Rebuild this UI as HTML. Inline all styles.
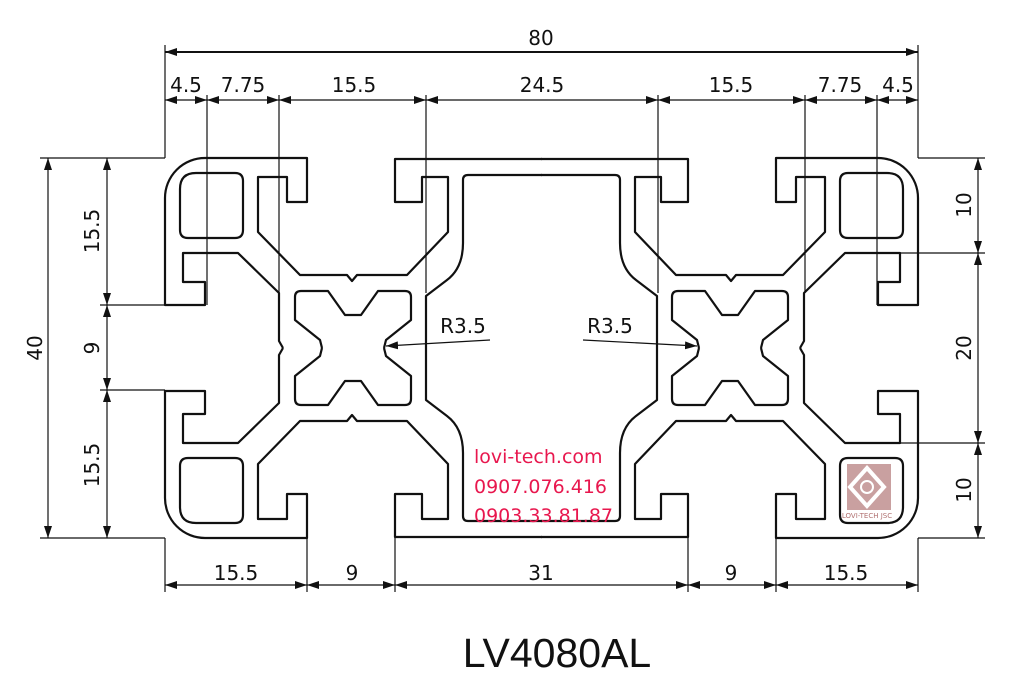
<!DOCTYPE html>
<html><head><meta charset="utf-8"><style>
html,body{margin:0;padding:0;background:#fff;}
svg{display:block;}
text{font-family:"DejaVu Sans","Liberation Sans",sans-serif;fill:#111;}
text.t{font-family:"Liberation Sans",sans-serif;}
</style></head><body>
<svg width="1013" height="680" viewBox="0 0 1013 680" xmlns="http://www.w3.org/2000/svg">
<defs>
<marker id="a" viewBox="0 0 12 8" refX="12" refY="4" markerWidth="12" markerHeight="8" markerUnits="userSpaceOnUse" orient="auto-start-reverse"><path d="M0,0 L12,4 L0,8 z" fill="#111"/></marker>
<g id="q" fill="none" stroke="#111" stroke-width="2.2" stroke-linejoin="round">
  <path d="M283 348 L279 341 L279 293 L238 253 L183 253 L183 282 L205 282 L205 305 L165 305 L165 198 A40 40 0 0 1 205 158 L307 158 L307 202 L287 202 L287 177 L258 177 L258 232 L300 275 L347 275 L352 281 L357 275 L407 275 L448 232 L448 177 L422 177 L422 202 L395 202 L395 159 L542 159"/>
  <path d="M542 175 L468 175 Q463 175 463 180 L463 243 Q463 268 447 280 L426 296 L426 348"/>
  <path d="M243 230 L243 181 Q243 173 235 173 L196 173 Q180 173 180 189 L180 230 Q180 238 188 238 L235 238 Q243 238 243 230 Z"/>
  <path id="cq" d="M353 315 L345 315 L328 291 L301 291 Q295 291 295 297 L295 320 L320 340 L322 348"/>
  <use href="#cq" transform="translate(706,0) scale(-1,1)"/>
</g>
</defs>
<use href="#q"/>
<use href="#q" transform="translate(1083,0) scale(-1,1)"/>
<use href="#q" transform="translate(0,696) scale(1,-1)"/>
<use href="#q" transform="translate(1083,696) scale(-1,-1)"/>

<g stroke="#111" stroke-width="1.2" fill="none">
<path d="M165 45 V158 M918 45 V158 M207 95 V305 M279 95 V293 M426 95 V293 M658 95 V293 M805 95 V293 M877 95 V305"/>
<path d="M165 538 V592 M918 538 V592 M307 538 V592 M395 538 V592 M688 538 V592 M776 538 V592"/>
<path d="M40 158 H165 M40 538 H165 M100 305 H165 M100 390 H165"/>
<path d="M918 158 H985 M918 538 H985 M880 253 H985 M880 443 H985"/>
</g>
<g stroke="#111" stroke-width="1.2" fill="none" marker-start="url(#a)" marker-end="url(#a)">
<line x1="165" y1="52" x2="918" y2="52" stroke-width="2"/>
<line x1="165" y1="100" x2="207" y2="100"/>
<line x1="207" y1="100" x2="279" y2="100"/>
<line x1="279" y1="100" x2="426" y2="100"/>
<line x1="426" y1="100" x2="658" y2="100"/>
<line x1="658" y1="100" x2="805" y2="100"/>
<line x1="805" y1="100" x2="877" y2="100"/>
<line x1="877" y1="100" x2="918" y2="100"/>
<line x1="165" y1="585" x2="307" y2="585"/>
<line x1="307" y1="585" x2="395" y2="585"/>
<line x1="395" y1="585" x2="688" y2="585"/>
<line x1="688" y1="585" x2="776" y2="585"/>
<line x1="776" y1="585" x2="918" y2="585"/>
<line x1="48" y1="158" x2="48" y2="538"/>
<line x1="107" y1="158" x2="107" y2="305"/>
<line x1="107" y1="305" x2="107" y2="390"/>
<line x1="107" y1="390" x2="107" y2="538"/>
<line x1="978" y1="158" x2="978" y2="253"/>
<line x1="978" y1="253" x2="978" y2="443"/>
<line x1="978" y1="443" x2="978" y2="538"/>
</g>
<g stroke="#111" stroke-width="1.2" fill="none" marker-end="url(#a)">
<line x1="490" y1="340" x2="386" y2="346"/>
<line x1="583" y1="340" x2="697" y2="346"/>
</g>
<g font-size="20" text-anchor="middle">
<text x="541" y="45">80</text>
<text x="186" y="92">4.5</text><text x="243" y="92">7.75</text><text x="354" y="92">15.5</text>
<text x="542" y="92">24.5</text><text x="731" y="92">15.5</text><text x="840" y="92">7.75</text><text x="898" y="92">4.5</text>
<text x="236" y="580">15.5</text><text x="352" y="580">9</text><text x="541" y="580">31</text><text x="731" y="580">9</text><text x="846" y="580">15.5</text>
<text transform="translate(42,348) rotate(-90)">40</text>
<text transform="translate(99,231) rotate(-90)">15.5</text>
<text transform="translate(99,348) rotate(-90)">9</text>
<text transform="translate(99,465) rotate(-90)">15.5</text>
<text transform="translate(971,205) rotate(-90)">10</text>
<text transform="translate(971,348) rotate(-90)">20</text>
<text transform="translate(971,490) rotate(-90)">10</text>
<text x="463" y="333">R3.5</text>
<text x="610" y="333">R3.5</text>
</g>
<g font-size="19">
<text x="474" y="463" style="fill:#e8174e">lovi-tech.com</text>
<text x="474" y="493" style="fill:#e8174e">0907.076.416</text>
<text x="474" y="522" style="fill:#e8174e">0903.33.81.87</text>
</g>
<rect x="847" y="464" width="44" height="46" fill="#c9a0a0"/>
<path d="M867 468 L884 487 L867 506 L850 487 Z" fill="none" stroke="#fff" stroke-width="4"/>
<circle cx="867" cy="487" r="6" fill="none" stroke="#fff" stroke-width="2"/>
<text x="867" y="518" font-size="7" text-anchor="middle" style="fill:#b07070">LOVI-TECH JSC</text>
<text class="t" x="557" y="667" font-size="41" text-anchor="middle">LV4080AL</text>
</svg>
</body></html>
